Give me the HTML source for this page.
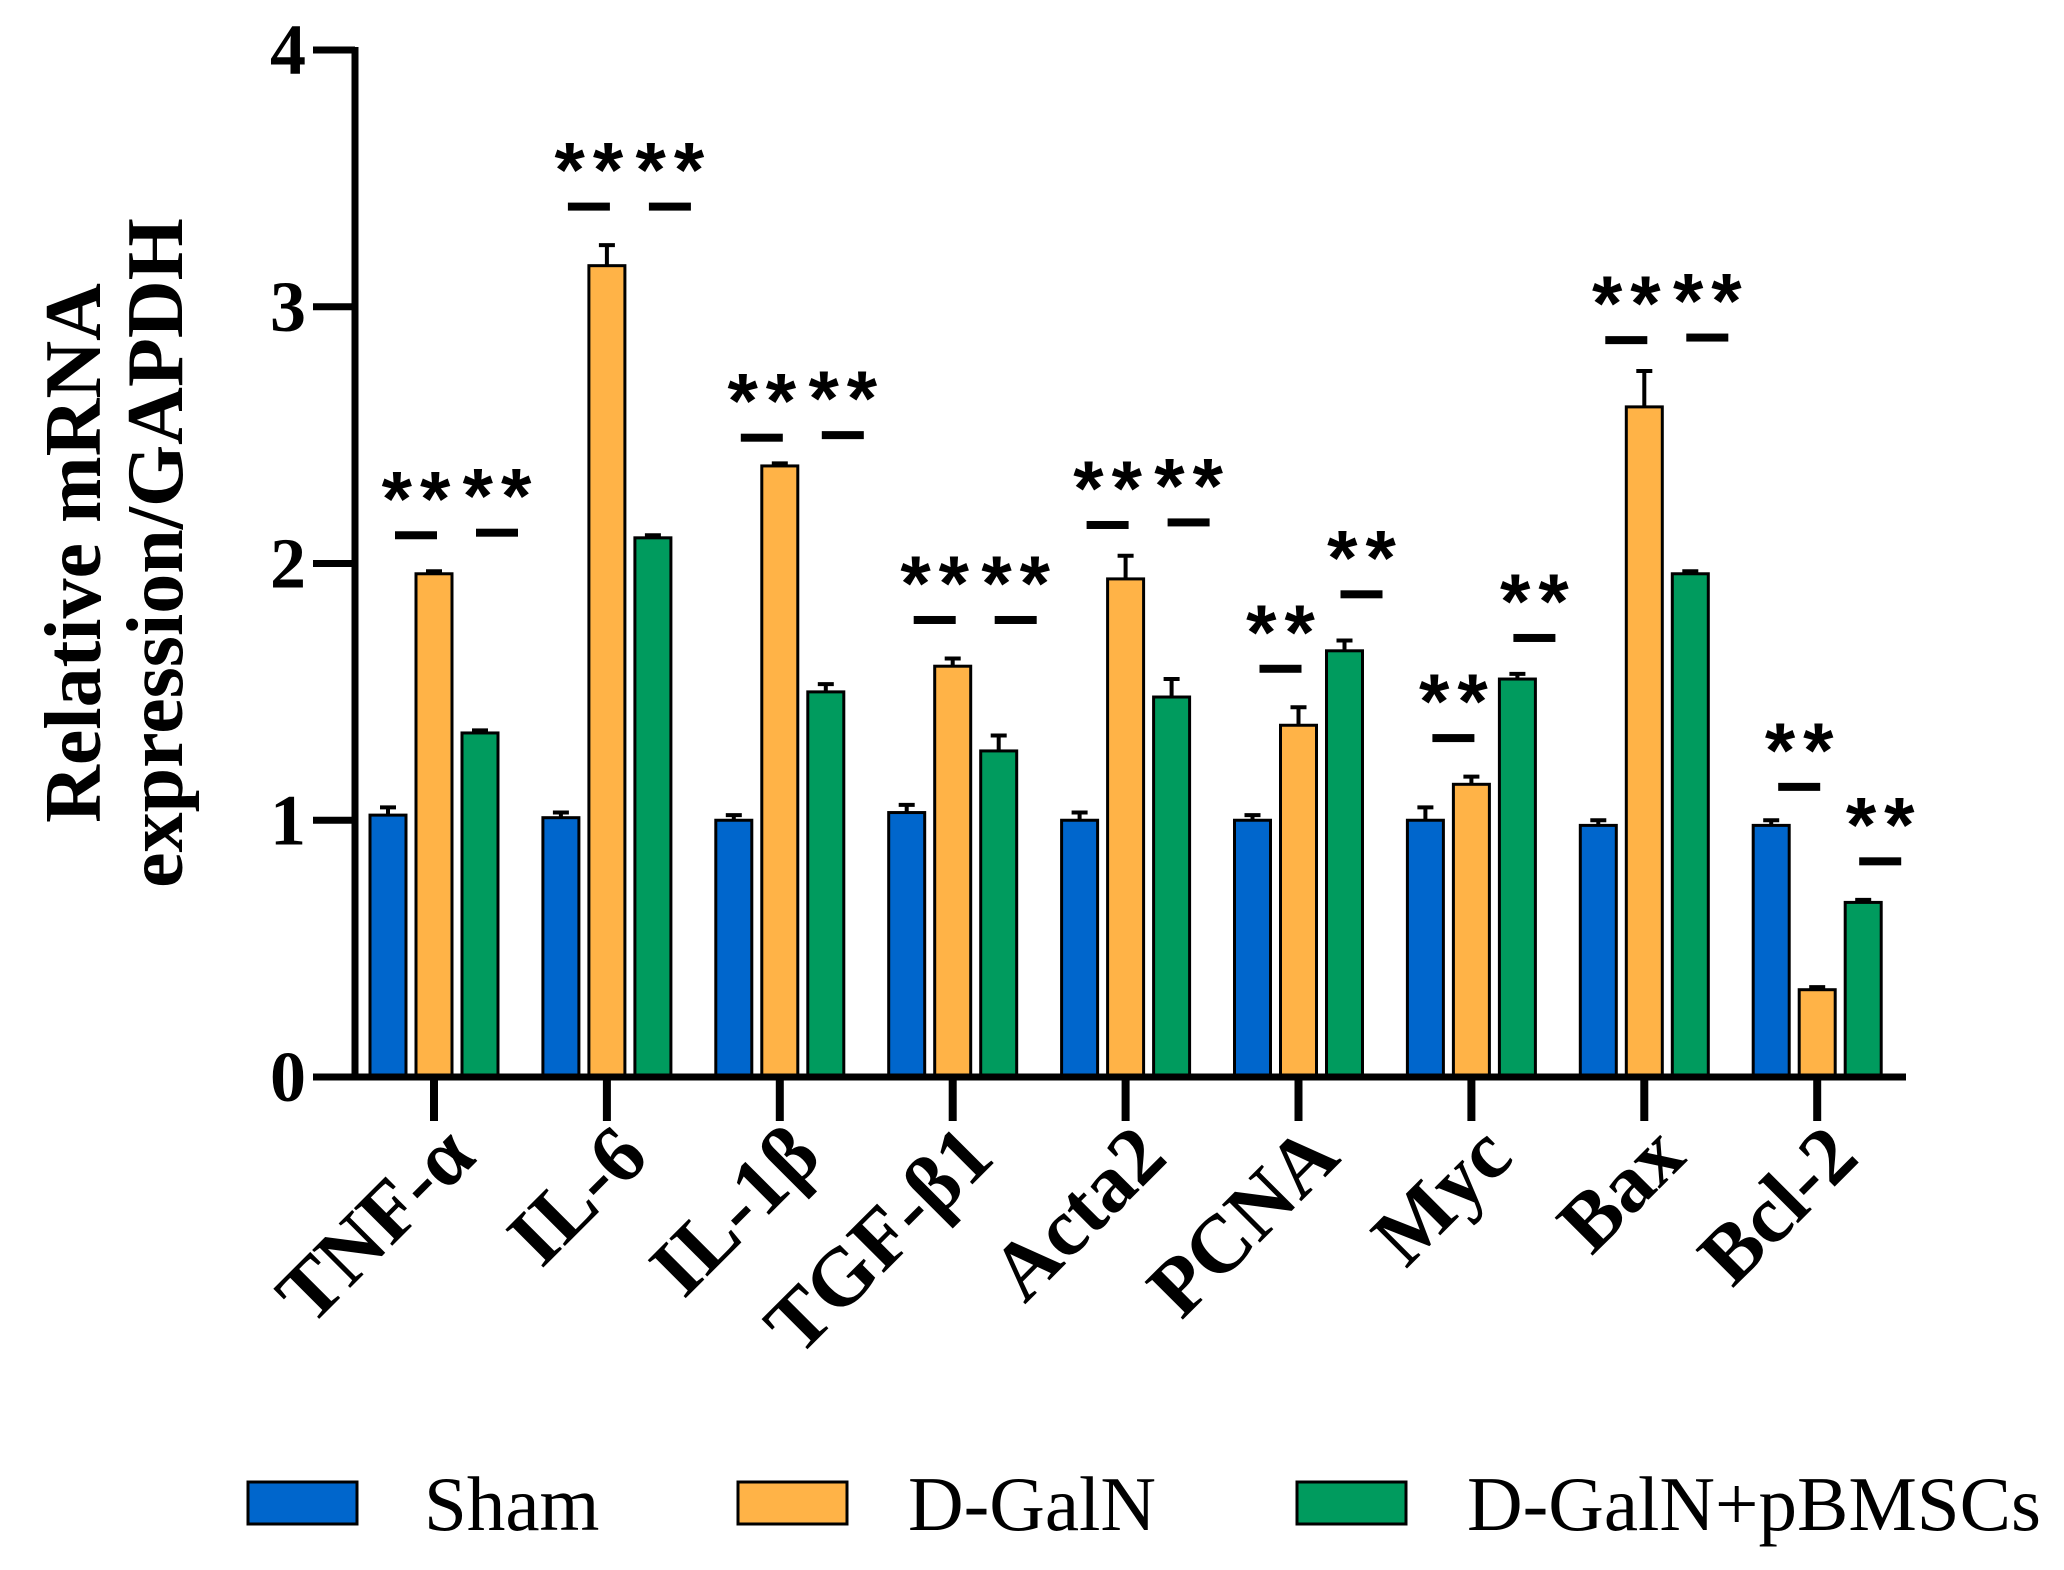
<!DOCTYPE html>
<html><head><meta charset="utf-8"><style>
html,body{margin:0;padding:0;background:#fff;}
svg{display:block;}
</style></head><body>
<svg id="chart" width="2064" height="1570" viewBox="0 0 2064 1570" xmlns="http://www.w3.org/2000/svg">
<g id="plot"></g>
<g id="legend" font-family="Liberation Serif, serif" font-size="77">
  <g><rect x="248" y="1482" width="109" height="42" fill="#0066CC" stroke="#000" stroke-width="3"/><text x="424" y="1530">Sham</text></g>
  <g><rect x="738" y="1482" width="109" height="42" fill="#FFB347" stroke="#000" stroke-width="3"/><text x="908" y="1530">D-GalN</text></g>
  <g><rect x="1297" y="1482" width="109" height="42" fill="#009B5E" stroke="#000" stroke-width="3"/><text x="1467" y="1530">D-GalN+pBMSCs</text></g>
</g>
</svg>
<script>
const categories = ["TNF-α","IL-6","IL-1β","TGF-β1","Acta2","PCNA","Myc","Bax","Bcl-2"];
const shamValues = [1.02,1.01,1.00,1.03,1.00,1.00,1.00,0.98,0.98];
const galnValues = [1.96,3.16,2.38,1.60,1.94,1.37,1.14,2.61,0.34];
const bmscValues = [1.34,2.10,1.50,1.27,1.48,1.66,1.55,1.96,0.68];
const shamErr = [0.03,0.02,0.02,0.03,0.03,0.02,0.05,0.02,0.02];
const galnErr = [0.01,0.08,0.01,0.03,0.09,0.07,0.03,0.14,0.01];
const bmscErr = [0.01,0.01,0.03,0.06,0.07,0.04,0.02,0.01,0.01];
const sigLeft = [2.11,3.39,2.49,1.78,2.15,1.59,1.32,2.87,1.13];
const sigRight = [2.12,3.39,2.50,1.78,2.16,1.88,1.71,2.88,0.84];
const yTicks = [0,1,2,3,4];

const NS="http://www.w3.org/2000/svg";
const plot=document.getElementById('plot');
const x0=355, x1=1906, yBase=1077, yTop=50, yMax=4;
function y(v){return yBase-(v/yMax)*(yBase-yTop);}
function gx(i){return 434+i*172.9;}
function mk(tag,attrs,parent){const e=document.createElementNS(NS,tag);for(const k in attrs)e.setAttribute(k,attrs[k]);(parent||plot).appendChild(e);return e;}

const series=[{v:shamValues,e:shamErr,c:"#0066CC",off:-46},{v:galnValues,e:galnErr,c:"#FFB347",off:0},{v:bmscValues,e:bmscErr,c:"#009B5E",off:46}];
const bw=36;
series.forEach(s=>{
  s.v.forEach((val,i)=>{
    const cx=gx(i)+s.off, top=y(val), te=y(val+s.e[i]);
    const eb=mk('path',{d:`M${cx} ${top} V${te} M${cx-8} ${te} H${cx+8}`,stroke:"#000","stroke-width":4,fill:"none"});
    
    
    const r=mk('rect',{x:cx-bw/2,y:top,width:bw,height:yBase-top,fill:s.c,stroke:"#000","stroke-width":3});
    
    
  });
});
function sig(cx,val){
  const ly=y(val);
  const l=mk('rect',{x:cx-21,y:ly-4,width:42,height:8,fill:"#000"});
  
  
  const t=mk('text',{x:cx+4,y:ly-10,"text-anchor":"middle","font-family":"Liberation Sans, sans-serif","font-weight":"bold","font-size":"78","letter-spacing":"8"});
  t.textContent="**";
  
  
}
categories.forEach((c,i)=>{
  sig(gx(i)-18,sigLeft[i]);
  sig(gx(i)+63,sigRight[i]);
});
const ya=mk('path',{d:`M${x0} ${yTop-3} V${yBase+3}`,stroke:"#000","stroke-width":7});


const xa=mk('path',{d:`M${x0-3} ${yBase} H${x1}`,stroke:"#000","stroke-width":7});


yTicks.forEach(t=>{
  const tk=mk('path',{d:`M313 ${y(t)} H${x0}`,stroke:"#000","stroke-width":7});
  
  
  const lb=mk('text',{x:306,y:y(t)+24,"text-anchor":"end","font-family":"Liberation Serif, serif","font-weight":"bold","font-size":"72"});
  lb.textContent=t;
  
  
});
categories.forEach((c,i)=>{
  const tk=mk('path',{d:`M${gx(i)} ${yBase} V1121`,stroke:"#000","stroke-width":8});
  
  
  const lb=mk('text',{x:0,y:0,"text-anchor":"end",transform:`translate(${gx(i)+44},1160) rotate(-45)`,"font-family":"Liberation Serif, serif","font-weight":"bold","font-size":"82"});
  lb.textContent=c;
  
  
});
const tt=mk('text',{transform:"translate(0,553) rotate(-90)","text-anchor":"middle","font-family":"Liberation Serif, serif","font-weight":"bold","font-size":"80"});


const t1=mk('tspan',{x:0,y:100},tt);t1.textContent="Relative mRNA";
const t2=mk('tspan',{x:0,y:182},tt);t2.textContent="expression/GAPDH";
</script>
</body></html>
